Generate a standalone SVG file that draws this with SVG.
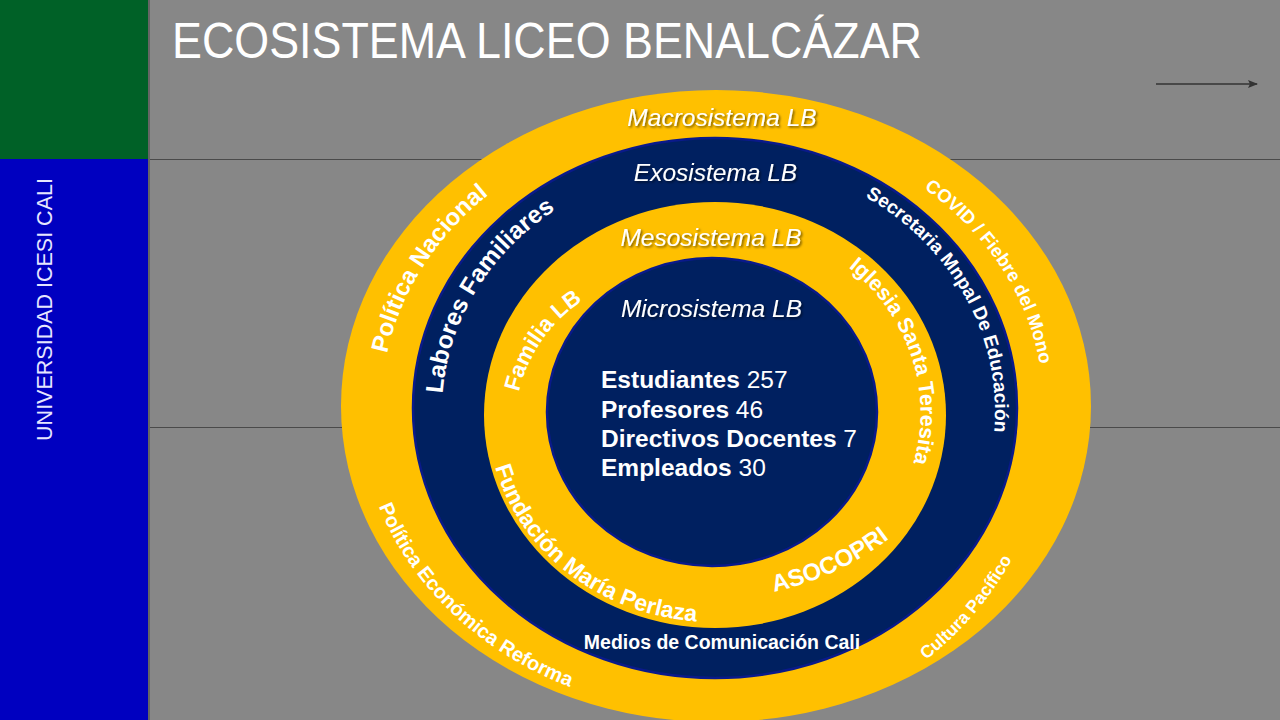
<svg xmlns="http://www.w3.org/2000/svg" width="1280" height="720" viewBox="0 0 1280 720">
<style>
.lbl{font-family:"Liberation Sans",Arial,sans-serif;font-weight:bold;fill:#ffffff}
.ital{font-family:"Liberation Sans",Arial,sans-serif;font-style:italic;font-size:24.5px;fill:#ffffff;text-anchor:middle}
.list{font-family:"Liberation Sans",Arial,sans-serif;font-size:24.5px;fill:#ffffff}
.rule{stroke:#4a4a4a;stroke-width:1}
.navy{fill:#002060;stroke:#0a1a8a;stroke-width:2.5}
.gold{fill:#ffc000}
</style>
<defs>
<filter id="sh" x="-10%" y="-30%" width="120%" height="160%">
<feDropShadow dx="1.5" dy="1.5" stdDeviation="0.8" flood-color="#000" flood-opacity="0.55"/>
</filter>
<marker id="ah" markerWidth="10" markerHeight="8" refX="9" refY="4" orient="auto" markerUnits="userSpaceOnUse">
<path d="M0,0 L10,4 L0,8 L2,4 Z" fill="#333"/>
</marker>
<path id="p1" d="M387.1,353.5 A334,288 0 0 1 773.5,122.4"/>
<path id="p2" d="M924.1,188.4 A328,282 0 0 1 999.5,547"/>
<path id="p3" d="M378.9,506.3 A356,308 0 0 0 777.3,709.3"/>
<path id="p4" d="M926,660 A330,330 0 0 0 1052,428.2"/>
<path id="p5" d="M442.7,393.7 A273,248 0 0 1 715,163"/>
<path id="p6" d="M865.4,196.8 A280,254 0 0 1 929.5,574.3"/>
<path id="p8" d="M519,392 A150,150 0 0 1 678.2,276.8"/>
<path id="p9" d="M848.5,267.4 A207,192 0 0 1 817,579.3"/>
<path id="p10" d="M495.2,467.1 A226,209 0 0 0 826.5,594"/>
<path id="p11" d="M774,592 A300,300 0 0 0 968.1,449.5"/>
</defs>

<g id="background">
<rect x="0" y="0" width="1280" height="720" fill="#878787"/>
<rect x="0" y="0" width="148" height="159" fill="#006127"/>
<rect x="0" y="159" width="148" height="561" fill="#0000c0"/>
<line x1="149" y1="0" x2="149" y2="720" stroke="#5a5a5a" stroke-width="1.5"/>
<line class="rule" x1="150" y1="159.5" x2="1280" y2="159.5"/>
<line class="rule" x1="150" y1="427.5" x2="1280" y2="427.5"/>
<text x="0" y="0" transform="translate(52,309.5) rotate(-90)" text-anchor="middle" font-family="'Liberation Sans',Arial,sans-serif" font-size="21.5" fill="#e6e6ff">UNIVERSIDAD ICESI CALI</text>
</g>

<g id="title">
<text x="172" y="58" font-family="'Liberation Sans',Arial,sans-serif" font-size="50" fill="#ffffff" textLength="750" lengthAdjust="spacingAndGlyphs">ECOSISTEMA LICEO BENALCÁZAR</text>
</g>

<g id="connectors">
<line x1="1156" y1="84" x2="1257" y2="84" stroke="#333" stroke-width="1.4" marker-end="url(#ah)"/>
</g>

<g id="macrosistema">
<ellipse class="gold" cx="716" cy="406" rx="375" ry="316"/>
<text class="ital" x="722" y="126" filter="url(#sh)">Macrosistema LB</text>
<text class="lbl" font-size="24"><textPath href="#p1">Política Nacional</textPath></text>
<text class="lbl" font-size="18.5"><textPath href="#p2">COVID / Fiebre del Mono</textPath></text>
<text class="lbl" font-size="20"><textPath href="#p3">Política Económica Reforma</textPath></text>
<text class="lbl" font-size="17.5"><textPath href="#p4">Cultura Pacífico</textPath></text>
</g>

<g id="exosistema">
<ellipse class="navy" cx="715" cy="408" rx="302" ry="270"/>
<text class="ital" x="715.5" y="181" filter="url(#sh)">Exosistema LB</text>
<text class="lbl" font-size="24.5"><textPath href="#p5">Labores Familiares</textPath></text>
<text class="lbl" font-size="19"><textPath href="#p6">Secretaria Mnpal De Educación</textPath></text>
<text class="lbl" font-size="19.5" x="722" y="649" text-anchor="middle">Medios de Comunicación Cali</text>
</g>

<g id="mesosistema">
<ellipse class="gold" cx="715" cy="415" rx="231" ry="213"/>
<text class="ital" x="711" y="246" filter="url(#sh)">Mesosistema LB</text>
<text class="lbl" font-size="22.5"><textPath href="#p8">Familia LB</textPath></text>
<text class="lbl" font-size="21.5"><textPath href="#p9">Iglesia Santa Teresita</textPath></text>
<text class="lbl" font-size="23"><textPath href="#p10">Fundación María Perlaza</textPath></text>
<text class="lbl" font-size="24"><textPath href="#p11">ASOCOPRI</textPath></text>
</g>

<g id="microsistema">
<ellipse class="navy" cx="712" cy="412" rx="165" ry="154"/>
<text class="ital" x="711.5" y="317" filter="url(#sh)">Microsistema LB</text>
<text class="list" x="601" y="388"><tspan font-weight="bold">Estudiantes</tspan> 257</text>
<text class="list" x="601" y="417.5"><tspan font-weight="bold">Profesores</tspan> 46</text>
<text class="list" x="601" y="447"><tspan font-weight="bold">Directivos Docentes</tspan> 7</text>
<text class="list" x="601" y="476"><tspan font-weight="bold">Empleados</tspan> 30</text>
</g>
</svg>
